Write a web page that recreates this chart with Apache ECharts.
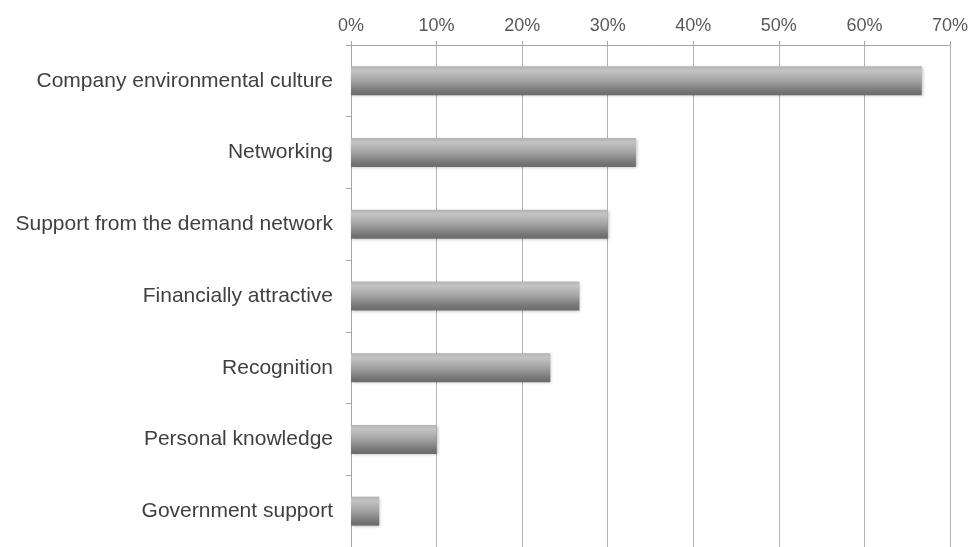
<!DOCTYPE html>
<html>
<head>
<meta charset="utf-8">
<script src="https://cdn.jsdelivr.net/npm/echarts@6/dist/echarts.min.js"></script>
<style>
html,body{margin:0;padding:0;background:#fff;}
#chart{width:971px;height:547px;}
</style>
</head>
<body>
<div id="chart"></div>
<script>
var categories = [
  "Company environmental culture",
  "Networking",
  "Support from the demand network",
  "Financially attractive",
  "Recognition",
  "Personal knowledge",
  "Government support"
];
var values = [66.7, 33.3, 30.0, 26.7, 23.3, 10.0, 3.3];
var tickMin = 0, tickMax = 70, tickStep = 10;

var chart = echarts.init(document.getElementById('chart'), null, {renderer: 'canvas'});
chart.setOption({
  animation: false,
  backgroundColor: '#ffffff',
  grid: {left: 351, right: 19, top: 45, height: 505, containLabel: false},
  xAxis: {
    type: 'value', position: 'top',
    min: tickMin, max: tickMax, interval: tickStep,
    axisLine: {show: true, lineStyle: {color: '#a6a6a6', width: 1}},
    axisTick: {show: true, length: 4, lineStyle: {color: '#a6a6a6'}},
    splitLine: {show: true, lineStyle: {color: '#b3b3b3', width: 1}},
    axisLabel: {
      formatter: function(v){ return v + '%'; },
      color: '#595959', fontFamily: 'Liberation Sans, Arial, sans-serif', fontSize: 18, margin: 10
    }
  },
  yAxis: {
    type: 'category', data: categories, inverse: true,
    axisLine: {show: true, lineStyle: {color: '#a6a6a6', width: 1}},
    axisTick: {show: true, length: 5, lineStyle: {color: '#a6a6a6'}},
    axisLabel: {
      color: '#404040', fontFamily: 'Liberation Sans, Arial, sans-serif', fontSize: 21, margin: 18
    }
  },
  series: [{
    type: 'bar', data: values, barWidth: 29,
    itemStyle: {
      color: new echarts.graphic.LinearGradient(0, 0, 0, 1, [
        {offset: 0, color: '#b3b3b3'},
        {offset: 0.15, color: '#c3c3c3'},
        {offset: 0.5, color: '#a2a2a2'},
        {offset: 0.88, color: '#737373'},
        {offset: 1, color: '#6b6b6b'}
      ]),
      shadowBlur: 3, shadowColor: 'rgba(0,0,0,0.25)', shadowOffsetX: 1, shadowOffsetY: 1
    }
  }]
});
</script>
</body>
</html>
